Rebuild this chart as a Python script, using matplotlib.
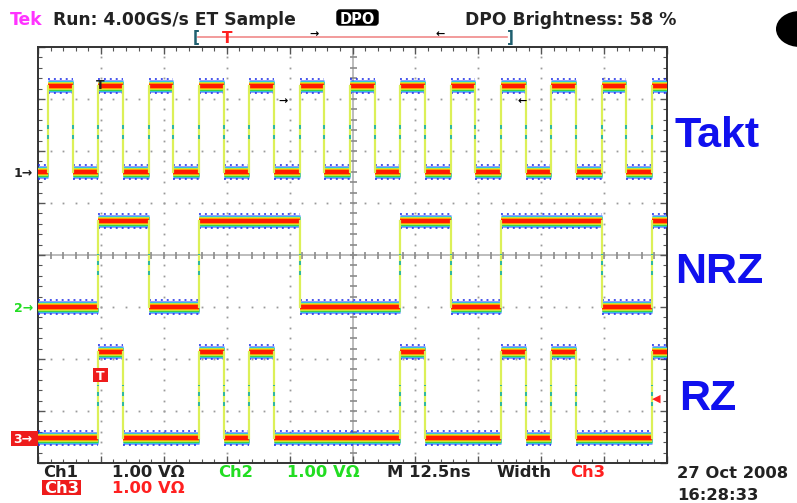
import numpy as np
import matplotlib
matplotlib.use("Agg")
import matplotlib.pyplot as plt
from matplotlib.patches import Ellipse, FancyBboxPatch, Rectangle

# ---------------- data ----------------
time_per_div_ns = 12.5
n_div_x = 10
n_div_y = 8
# clock (Takt) edges in ns
clock_rise_ns = [2, 12, 22, 32, 42, 52, 62, 72, 82, 92, 102, 112, 122]
clock_fall_ns = [6.9, 16.9, 26.9, 36.9, 46.9, 56.9, 66.9, 76.9, 86.9, 96.9, 106.9, 116.9]
# data bits, one per clock period (starting at each rising edge)
data_bits = [0, 1, 0, 1, 1, 0, 0, 1, 0, 1, 1, 0, 1]
rz_pulse_ns = 4.9
# channel ground positions (divisions from screen centre) and amplitude (V, 1 V/div)
ground_div = {"Ch1": 1.6, "Ch2": -1.0, "Ch3": -3.52}
amplitude_v = 1.65
volts_per_div = 1.0
labels = ["Takt", "NRZ", "RZ"]

W, H, DPI = 797, 503, 100
fig = plt.figure(figsize=(W / DPI, H / DPI), dpi=DPI)
fig.patch.set_facecolor("white")

# screen area in pixel coordinates
x0, x1, y0, y1 = 38, 667, 47, 463
ax = fig.add_axes([x0 / W, 1 - y1 / H, (x1 - x0) / W, (y1 - y0) / H])
t_end = n_div_x * time_per_div_ns
ax.set_xlim(0, t_end)
ax.set_ylim(-n_div_y / 2, n_div_y / 2)
ax.set_facecolor("white")

px = 0.72  # points per pixel

# ---------------- graticule ----------------
dot_c = "#9a9a9a"
for i in range(1, n_div_x):
    if i == n_div_x // 2:
        continue
    yy = np.arange(-4, 4.001, 0.2)
    ax.plot(np.full_like(yy, i * time_per_div_ns), yy, ls="none", marker="s",
            ms=1.3, color=dot_c, mew=0, zorder=1)
for j in range(-3, 4):
    if j == 0:
        continue
    xx = np.arange(0, t_end + 0.001, time_per_div_ns / 5)
    ax.plot(xx, np.full_like(xx, j), ls="none", marker="s", ms=1.3,
            color=dot_c, mew=0, zorder=1)
ax.axhline(0, color="#b0b0b0", lw=1.2, zorder=1)
ax.axvline(t_end / 2, color="#b0b0b0", lw=1.2, zorder=1)
xx = np.arange(0, t_end + 0.001, time_per_div_ns / 5)
ax.plot(xx, np.zeros_like(xx), ls="none", marker="|", ms=7 * px, mew=1.2,
        color="#8a8a8a", zorder=1)
yy = np.arange(-4, 4.001, 0.2)
ax.plot(np.full_like(yy, t_end / 2), yy, ls="none", marker="_", ms=7 * px,
        mew=1.2, color="#8a8a8a", zorder=1)

ax.set_xticks(np.arange(0, t_end + 0.01, time_per_div_ns))
ax.set_xticks(np.arange(0, t_end + 0.01, time_per_div_ns / 5), minor=True)
ax.set_yticks(np.arange(-4, 4.01, 1))
ax.set_yticks(np.arange(-4, 4.01, 0.2), minor=True)
ax.tick_params(which="both", direction="in", top=True, right=True,
               labelbottom=False, labelleft=False, color="#555555")
ax.tick_params(which="major", length=5, width=1)
ax.tick_params(which="minor", length=3, width=0.8)
for s in ax.spines.values():
    s.set_color("#333333")
    s.set_linewidth(1.4)


# ---------------- traces ----------------
def build_segments(edges, start_level):
    """edges: list of (t, new_level) sorted; returns horizontal segments."""
    segs = []
    t_prev, lvl = 0.0, start_level
    for t, new in edges:
        segs.append((t_prev, t, lvl))
        t_prev, lvl = t, new
    segs.append((t_prev, t_end, lvl))
    return segs


def draw_trace(segs, ground):
    to_div = lambda v: ground + v / volts_per_div
    layers = [("#2a3cff", 13, 0.5), ("#10c8e0", 11, 0.75), ("#40d040", 9, 1),
              ("#e8ee40", 7.5, 1), ("#ff9a00", 6.0, 1), ("#ff1a00", 4.0, 1)]
    for c, w, a in layers:
        for ta, tb, lvl in segs:
            ax.plot([ta, tb], [to_div(lvl)] * 2, color=c, lw=w * px, alpha=a,
                    solid_capstyle="butt", zorder=3)
    # blue speckle at the band edges
    for ta, tb, lvl in segs:
        for off in (-0.13, 0.13):
            ax.plot([ta, tb], [to_div(lvl) + off] * 2, color="#1f2fe8",
                    lw=1.6 * px, ls=(0, (1.2, 2.5)), zorder=3)
    # transitions
    for k in range(1, len(segs)):
        t = segs[k][0]
        ya, yb = to_div(segs[k - 1][2]), to_div(segs[k][2])
        ax.plot([t, t], [ya, yb], color="#dcf058", lw=2.2 * px, zorder=4)
        ym = 0.5 * (ya + yb)
        ax.plot([t, t], [ym - 0.2, ym + 0.2], color="#30b8a0", lw=2.0 * px,
                ls=(0, (2, 3)), zorder=4)


# clock
clk_edges = sorted([(t, amplitude_v) for t in clock_rise_ns] +
                   [(t, 0.0) for t in clock_fall_ns])
draw_trace(build_segments(clk_edges, 0.0), ground_div["Ch1"])

# NRZ
nrz_edges = []
prev = 0
for t, b in zip(clock_rise_ns, data_bits):
    if b != prev:
        nrz_edges.append((t, amplitude_v * b))
    prev = b
draw_trace(build_segments(nrz_edges, 0.0), ground_div["Ch2"])

# RZ
rz_edges = []
for t, b in zip(clock_rise_ns, data_bits):
    if b:
        rz_edges.append((t, amplitude_v))
        if t + rz_pulse_ns < t_end:
            rz_edges.append((t + rz_pulse_ns, 0.0))
draw_trace(build_segments(rz_edges, 0.0), ground_div["Ch3"])

# ---------------- overlay (pixel coordinates) ----------------
ov = fig.add_axes([0, 0, 1, 1], zorder=10)
ov.set_xlim(0, W)
ov.set_ylim(H, 0)
ov.axis("off")
ov.patch.set_alpha(0)

F = "DejaVu Sans"
fs = 12.3
ov.text(10, 25, "Tek", color="#ff33ff", fontsize=fs, fontweight="bold", family=F)
ov.text(53, 25, "Run: 4.00GS/s ET Sample", color="#222222", fontsize=fs,
        fontweight="bold", family=F)
ov.add_patch(FancyBboxPatch((337, 10), 41, 15, boxstyle="round,pad=0,rounding_size=3",
                            fc="black", ec="black"))
ov.text(357.5, 23.5, "DPO", color="white", fontsize=10.5, fontweight="bold", family=F,
        ha="center")
ov.text(465, 25, "DPO Brightness: 58 %", color="#222222", fontsize=fs,
        fontweight="bold", family=F)
ov.add_patch(Ellipse((800, 29), 48, 36, fc="black", ec="none"))

# trigger position bar
ov.plot([198, 507], [37, 37], color="#f08a8a", lw=1.2)
ov.text(196, 42, "[", color="#1f5f6f", fontsize=11, fontweight="bold", ha="center", family=F)
ov.text(510, 42, "]", color="#1f5f6f", fontsize=11, fontweight="bold", ha="center", family=F)
ov.text(227, 43, "T", color="#ff2020", fontsize=11, fontweight="bold", ha="center", family=F)
ov.text(314, 37, "\u2192", color="black", fontsize=8, fontweight="bold", ha="center", family=F)
ov.text(440, 37, "\u2190", color="black", fontsize=8, fontweight="bold", ha="center", family=F)

# small markers on the screen
ov.text(100, 89, "T", color="#222222", fontsize=9, fontweight="bold", ha="center", family=F)
ov.text(283, 104, "\u2192", color="black", fontsize=8, fontweight="bold", ha="center", family=F)
ov.text(522, 104, "\u2190", color="black", fontsize=8, fontweight="bold", ha="center", family=F)
ov.add_patch(Rectangle((93, 368), 15, 14, fc="#ee1c1c", ec="none"))
ov.text(100.5, 380, "T", color="white", fontsize=9, fontweight="bold", ha="center", family=F)
ov.text(656, 402, "\u25c0", color="#ff2020", fontsize=8, ha="center", family=F)

# channel ground markers
ov.text(14, 177, "1\u2192", color="#222222", fontsize=9, fontweight="bold", family=F)
ov.text(14, 312, "2\u2192", color="#22dd22", fontsize=9, fontweight="bold", family=F)
ov.add_patch(Rectangle((11, 431), 27, 15, fc="#ee1c1c", ec="none"))
ov.text(13, 443, "3\u2192", color="white", fontsize=9, fontweight="bold", family=F)

# bottom readout
fb = 11.8
ov.text(43, 477, "Ch1", color="#222222", fontsize=fb, fontweight="bold", family=F)
ov.text(112, 477, "1.00 V\u03a9", color="#222222", fontsize=fb, fontweight="bold", family=F)
ov.text(218, 477, "Ch2", color="#22dd22", fontsize=fb, fontweight="bold", family=F)
ov.text(287, 477, "1.00 V\u03a9", color="#22dd22", fontsize=fb, fontweight="bold", family=F)
ov.text(387, 477, "M 12.5ns", color="#222222", fontsize=fb, fontweight="bold", family=F)
ov.text(497, 477, "Width", color="#222222", fontsize=fb, fontweight="bold", family=F)
ov.text(570, 477, "Ch3", color="#ff2020", fontsize=fb, fontweight="bold", family=F)
ov.add_patch(Rectangle((42, 480), 39, 15, fc="#ee1c1c", ec="none"))
ov.text(44, 493, "Ch3", color="white", fontsize=fb, fontweight="bold", family=F)
ov.text(112, 493, "1.00 V\u03a9", color="#ff2020", fontsize=fb, fontweight="bold", family=F)
ov.text(677, 478, "27 Oct 2008", color="#222222", fontsize=fb, fontweight="bold", family=F)
ov.text(677, 500, "16:28:33", color="#222222", fontsize=fb, fontweight="bold", family=F)

# signal names
LF = "Liberation Sans"
lab_y = [147, 283, 410]
lab_x = [675, 675, 679]
for s, xx_, yy_ in zip(labels, lab_x, lab_y):
    ov.text(xx_, yy_, s, color="#1010ee", fontsize=31, fontweight="bold", family=LF)

fig.savefig("out.png", dpi=DPI, facecolor="white")
